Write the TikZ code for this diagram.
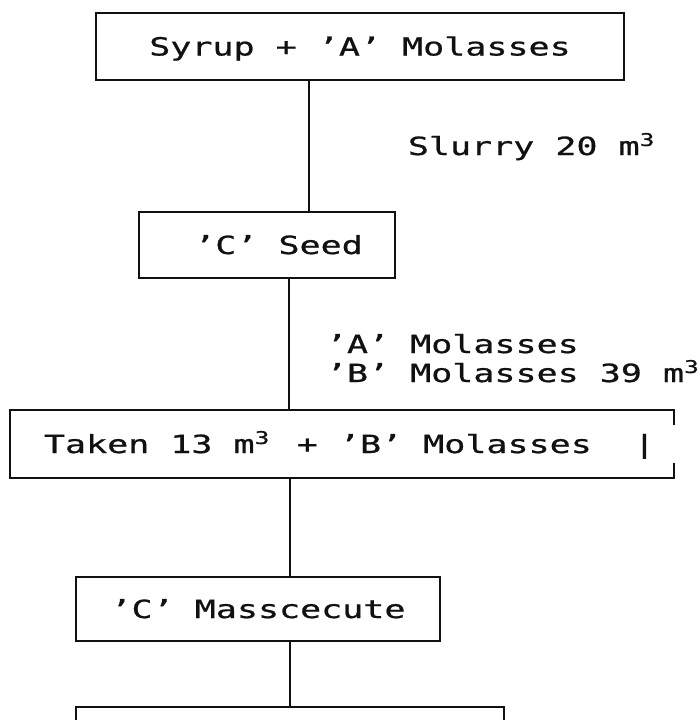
\documentclass[tikz,border=0pt]{standalone}
\usepackage{fontspec}
\setmainfont[FakeStretch=1.4,FakeBold=0.8]{DejaVu Sans Mono}
\usepackage{tikz}
\definecolor{ink}{HTML}{111111}
\newcommand{\cubic}{m\rlap{\textsuperscript{3}}\phantom{0}}

\begin{document}
\begin{tikzpicture}[x=1pt,y=-1pt,ink,line width=1.8pt,
  font=\fontsize{25}{29}\selectfont,
  stage/.style={draw,inner sep=0pt,text height=18pt,text depth=0pt,minimum height=66pt},
  flow/.style={anchor=base west,inner sep=0pt}]
  \useasboundingbox (0,0) rectangle (698,720);
  \clip (0,0) rectangle (698,720);

  \node[stage,minimum width=528pt,minimum height=67pt] (syrup) at (360,46.5) {Syrup + 'A' Molasses};
  \node[stage,minimum width=256pt] (seed) at (267,245) {\hspace*{23pt}'C' Seed};
  \node[stage,draw=none,minimum width=662pt] (taken) at (342,444) {\hspace*{15pt}Taken 13 \cubic{} + 'B' Molasses\ \ |};
  \node[stage,minimum width=364pt,minimum height=64pt] (masse) at (258,609) {'C' Masscecute};
  \node[stage,minimum width=428pt] (next) at (290,740) {};

  % open right side of the third box
  \draw ([yshift=-15pt]taken.north east) -- (taken.north east) -- (taken.north west)
    -- (taken.south west) -- (taken.south east) -- ([yshift=15pt]taken.south east);

  \draw ([xshift=-51pt]syrup.south) -- ([xshift=42pt]seed.north);
  \draw ([xshift=22pt]seed.south) -- ([xshift=-53pt]taken.north);
  \draw ([xshift=-52pt]taken.south) -- ([xshift=32pt]masse.north);
  \draw ([xshift=32pt]masse.south) -- (next.north);

  \node[flow] (slurry) at (407,155) {Slurry 20 \cubic};
  \node[flow] (molA) at (325,353) {'A' Molasses};
  \node[flow] (molB) at (325,382) {'B' Molasses 39 \cubic};
\end{tikzpicture}
\end{document}
